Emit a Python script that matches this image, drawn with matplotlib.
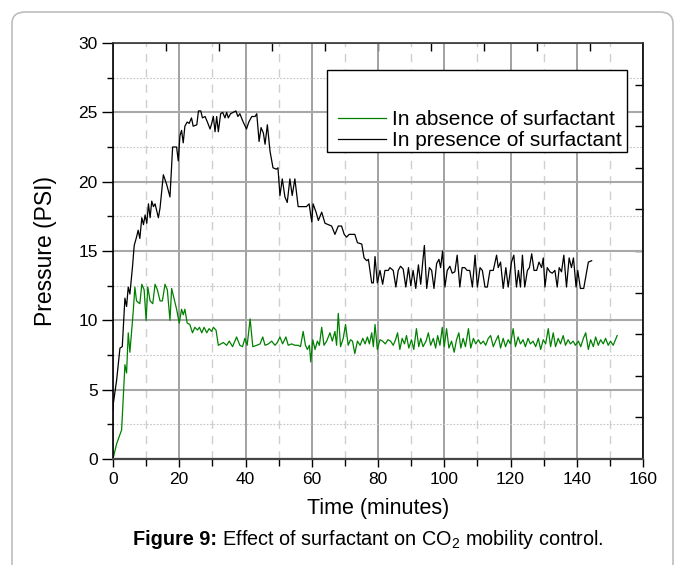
import matplotlib
matplotlib.use("Agg")
import matplotlib.pyplot as plt
from matplotlib.patches import FancyBboxPatch, Rectangle
import numpy as np

# ---------------- data ----------------
time_presence = [0.0, 0.1, 1.1, 2.1, 2.8, 3.6, 4.1, 4.6, 5.1, 5.9, 6.4, 7.1, 7.6, 8.1, 8.7, 9.2,
                 9.7, 10.2, 10.7, 11.2, 11.7, 12.2, 12.7, 13.7, 14.2, 15.2, 16.2, 17.2, 18.0,
                 19.2, 19.7, 20.2, 20.7, 21.2, 21.7, 22.4, 23.0, 23.7, 24.2, 25.3, 25.8, 26.5,
                 27.0, 27.8, 28.5, 29.3, 29.8, 30.3, 30.8, 31.3, 31.8, 32.5, 33.1, 33.8, 34.3,
                 34.8, 35.5, 36.3, 37.1, 37.7, 38.3, 39.3, 40.3, 41.0, 41.9, 42.9, 43.4, 44.1,
                 44.7, 45.4, 45.9, 46.6, 47.4, 48.3, 49.3, 49.8, 50.4, 51.1, 51.9, 52.6, 53.4,
                 54.1, 54.9, 55.9, 58.4, 59.2, 60.0, 60.4, 61.3, 62.0, 63.0, 64.0, 66.0, 67.0,
                 68.0, 69.0, 69.8, 70.5, 71.3, 73.0, 73.8, 75.1, 75.8, 76.6, 77.1, 78.1, 78.6,
                 79.1, 79.8, 80.6, 81.4, 82.1, 83.1, 83.6, 84.6, 85.4, 86.1, 86.8, 87.6, 88.4,
                 89.2, 89.9, 90.6, 91.4, 92.2, 92.9, 93.5, 94.0, 94.7, 95.5, 96.2, 96.9, 97.7,
                 98.4, 98.9, 99.5, 100.2, 100.9, 101.7, 102.4, 103.2, 103.9, 104.7, 105.4, 106.2,
                 106.9, 107.7, 108.5, 109.3, 110.0, 110.8, 111.5, 112.3, 113.0, 113.8, 114.8,
                 115.8, 116.3, 117.0, 117.8, 118.6, 119.3, 120.3, 121.0, 121.8, 122.4, 123.0,
                 123.6, 124.3, 125.1, 125.7, 126.4, 127.1, 127.9, 128.6, 129.4, 129.9, 130.4,
                 131.1, 131.9, 132.6, 133.4, 134.1, 134.7, 135.4, 136.1, 136.9, 137.7, 138.4,
                 139.0, 139.8, 140.3, 141.1, 142.1, 143.5, 144.5]
pressure_presence = [3.5, 4.0, 5.7, 8.0, 8.1, 11.6, 11.0, 12.4, 11.9, 13.9, 15.4, 16.0, 16.5, 15.9,
                     17.4, 16.9, 17.6, 17.0, 18.4, 17.4, 18.6, 18.2, 18.4, 17.4, 18.1, 20.5, 19.8,
                     18.9, 22.5, 22.5, 21.5, 23.3, 23.7, 22.8, 24.0, 24.3, 24.2, 24.6, 24.0, 24.1,
                     25.1, 25.1, 24.6, 24.7, 24.3, 23.8, 24.2, 24.7, 23.6, 24.7, 23.6, 24.9, 25.0,
                     24.6, 25.0, 24.6, 24.9, 25.0, 25.1, 24.7, 24.9, 24.3, 23.8, 24.3, 24.7, 24.7,
                     24.9, 22.9, 23.9, 23.5, 22.7, 24.1, 22.2, 21.0, 20.9, 21.0, 19.0, 20.2, 18.9,
                     18.5, 20.2, 19.0, 20.2, 18.2, 18.2, 18.4, 17.1, 18.4, 17.8, 17.2, 17.8, 17.0,
                     16.8, 16.2, 16.8, 16.8, 16.2, 16.0, 16.2, 16.2, 15.6, 15.5, 14.5, 14.3, 14.4,
                     12.7, 12.7, 14.6, 12.7, 13.6, 12.6, 13.6, 13.6, 13.8, 13.6, 12.4, 13.6, 13.9,
                     13.7, 12.4, 13.8, 12.5, 13.6, 12.3, 14.0, 12.6, 14.2, 15.4, 12.3, 13.8, 13.6,
                     12.3, 14.1, 14.4, 13.8, 15.0, 12.4, 13.6, 13.9, 13.4, 13.5, 14.7, 12.4, 13.8,
                     13.8, 13.6, 13.6, 12.4, 14.7, 12.4, 13.8, 13.6, 12.4, 12.4, 13.6, 13.6, 14.7,
                     13.8, 14.2, 12.3, 13.8, 12.4, 14.2, 14.7, 12.4, 13.6, 12.4, 14.7, 12.4, 13.6,
                     13.8, 14.8, 13.6, 13.6, 14.2, 13.8, 14.5, 12.4, 13.8, 13.5, 13.4, 13.6, 12.4,
                     13.8, 13.5, 14.7, 12.4, 14.5, 13.8, 14.5, 12.4, 13.6, 12.3, 12.3, 14.2, 14.3]

time_absence = [0.0, 1.1, 2.6, 3.6, 4.1, 4.6, 5.1, 6.1, 6.6, 7.1, 8.1, 8.7, 9.4, 10.0, 10.5, 11.2,
                12.0, 12.7, 13.4, 14.2, 14.9, 15.7, 16.4, 17.2, 17.7, 18.4, 19.2, 20.0, 20.7,
                21.2, 21.7, 22.4, 23.2, 24.0, 24.7, 25.5, 26.1, 26.8, 27.5, 28.3, 29.0, 29.8,
                30.3, 31.1, 31.8, 33.3, 34.3, 35.1, 36.1, 37.3, 38.3, 39.1, 39.8, 40.5, 41.4,
                42.2, 43.4, 44.4, 45.2, 45.9, 46.9, 47.9, 48.9, 49.6, 50.4, 51.2, 52.2, 52.9,
                53.9, 54.9, 55.9, 56.6, 57.4, 58.1, 58.7, 59.3, 59.7, 60.3, 61.0, 61.7, 62.3,
                63.0, 63.7, 64.5, 65.5, 66.2, 67.0, 67.5, 68.0, 68.7, 69.5, 70.2, 71.0, 71.7,
                72.3, 73.0, 73.8, 74.6, 75.4, 76.1, 76.8, 77.4, 78.1, 78.6, 79.1, 79.8, 80.6,
                81.4, 82.2, 83.0, 83.8, 84.6, 85.3, 85.9, 86.6, 87.3, 88.0, 88.6, 89.3, 90.1,
                90.8, 91.6, 92.3, 92.9, 93.6, 94.5, 95.2, 95.9, 96.7, 97.4, 98.0, 98.7, 99.4,
                100.0, 100.7, 101.4, 102.2, 103.0, 103.7, 104.4, 105.0, 105.7, 106.4, 107.3,
                108.0, 108.8, 109.5, 110.3, 111.0, 111.8, 112.5, 113.3, 114.0, 114.8, 115.5,
                116.3, 117.0, 117.8, 118.5, 119.3, 120.0, 120.8, 121.5, 122.3, 123.0, 123.8,
                124.5, 125.3, 126.0, 126.8, 127.6, 128.4, 129.1, 129.9, 130.6, 131.4, 132.1,
                132.9, 133.6, 134.4, 135.1, 135.9, 136.6, 137.4, 138.1, 138.9, 139.6, 140.5,
                141.2, 142.0, 142.7, 143.5, 144.2, 145.0, 145.7, 146.5, 147.2, 148.0, 148.7,
                149.5, 150.2, 151.0, 152.2]
pressure_absence = [0.0, 1.1, 2.1, 6.8, 6.2, 9.1, 7.7, 10.6, 12.4, 11.4, 11.2, 12.6, 12.2, 10.0,
                    12.4, 11.4, 11.2, 12.6, 12.2, 11.4, 11.4, 12.6, 12.2, 10.0, 12.3, 11.6, 10.8,
                    9.8, 10.8, 10.4, 10.8, 9.8, 9.7, 9.1, 9.5, 9.3, 9.5, 9.1, 9.5, 9.1, 9.4, 9.2,
                    9.5, 9.3, 8.2, 8.4, 8.2, 8.5, 8.1, 8.8, 8.2, 8.1, 8.7, 8.2, 10.1, 8.1, 8.2,
                    8.3, 8.8, 8.2, 8.3, 8.5, 8.2, 8.4, 8.8, 8.3, 8.8, 8.2, 8.3, 8.2, 8.2, 8.1,
                    9.2, 8.2, 7.9, 8.2, 7.0, 8.6, 7.9, 8.5, 8.2, 9.5, 8.2, 8.5, 9.1, 8.5, 9.2,
                    8.2, 10.5, 8.1, 8.7, 9.7, 8.2, 8.6, 8.5, 7.6, 8.5, 8.2, 8.7, 8.3, 8.8, 8.3,
                    9.1, 8.1, 9.7, 7.9, 8.6, 8.5, 8.3, 8.6, 8.5, 8.2, 8.6, 9.1, 7.9, 8.7, 8.3,
                    8.9, 8.0, 8.6, 7.9, 9.4, 8.1, 8.7, 8.1, 8.5, 9.1, 8.2, 8.7, 8.0, 8.9, 8.2,
                    9.5, 8.1, 9.4, 8.0, 8.5, 7.7, 8.6, 9.1, 8.0, 8.7, 8.1, 9.4, 8.0, 8.7, 8.3,
                    8.6, 8.3, 8.5, 8.2, 8.7, 8.9, 8.1, 8.5, 8.9, 8.0, 8.7, 8.1, 8.6, 8.3, 9.4,
                    8.1, 8.8, 8.3, 8.6, 8.1, 8.7, 8.3, 8.5, 8.1, 8.7, 7.9, 8.6, 8.3, 9.4, 8.1,
                    9.1, 8.1, 8.7, 8.3, 8.9, 8.2, 8.6, 8.3, 8.5, 8.2, 8.5, 8.1, 8.7, 9.1, 7.9,
                    8.6, 8.1, 8.8, 8.2, 8.6, 8.3, 8.7, 8.2, 8.5, 8.2, 8.9]

label_absence = "In absence of surfactant"
label_presence = "In presence of surfactant"
x_label = "Time (minutes)"
y_label = "Pressure (PSI)"
caption_bold = "Figure 9:"
caption_rest = " Effect of surfactant on CO$_2$ mobility control."
x_major = [0, 20, 40, 60, 80, 100, 120, 140, 160]
y_major = [0, 5, 10, 15, 20, 25, 30]

# ---------------- figure ----------------
W, H, DPI = 685, 565, 100
plt.rcParams['font.family'] = ['Liberation Sans', 'DejaVu Sans']
plt.rcParams['mathtext.fontset'] = 'custom'
plt.rcParams['mathtext.rm'] = 'Liberation Sans'
plt.rcParams['mathtext.bf'] = 'Liberation Sans:bold'

fig = plt.figure(figsize=(W / DPI, H / DPI), dpi=DPI)
fig.patch.set_facecolor('white')

# outer rounded frame
frame = FancyBboxPatch((12 / W, -0.05), (673 - 12) / W, (565 - 12) / H + 0.05,
                       boxstyle="round,pad=0,rounding_size=0.02",
                       transform=fig.transFigure, facecolor='none',
                       edgecolor='#bdbdbd', linewidth=1.2, clip_on=False)
fig.patches.append(frame)

L, R, T, B = 113, 643, 43, 459
ax = fig.add_axes([L / W, (H - B) / H, (R - L) / W, (B - T) / H])
ax.set_xlim(0, 160)
ax.set_ylim(0, 30)

# grid
ax.set_xticks(x_major)
ax.set_yticks(y_major)
ax.set_xticks(np.arange(10, 160, 20), minor=True)
ax.set_yticks(np.arange(2.5, 30, 5), minor=True)
ax.grid(which='major', axis='x', color='#9a9a9a', linewidth=1.3, linestyle='-')
ax.grid(which='major', axis='y', color='#a8a8a8', linewidth=1.5, linestyle='-')
ax.grid(which='minor', axis='x', color='#cfcfcf', linewidth=1.0, linestyle=(0, (6, 5)))
ax.grid(which='minor', axis='y', color='#c4c4c4', linewidth=0.8, linestyle=(0, (1.5, 1.5)))
ax.set_axisbelow(True)

ax.plot(time_absence, pressure_absence, color='#008000', linewidth=0.9, label=label_absence)
ax.plot(time_presence, pressure_presence, color='#000000', linewidth=0.9, label=label_presence)

# spines
for s in ['left', 'right']:
    ax.spines[s].set_color('black')
    ax.spines[s].set_linewidth(1.2)
ax.spines['top'].set_color('#333333')
ax.spines['top'].set_linewidth(1.2)
ax.spines['bottom'].set_color('#444444')
ax.spines['bottom'].set_linewidth(1.6)

ax.tick_params(axis='y', which='major', direction='out', length=8, width=1, labelsize=12.5, pad=3)
ax.tick_params(axis='y', which='minor', direction='out', length=4, width=1)
ax.tick_params(axis='x', which='major', direction='out', length=6, width=1, labelsize=12.5, pad=3)
ax.tick_params(axis='x', which='minor', direction='out', length=5, width=1)

# top & right inward ticks
top = ax.secondary_xaxis('top')
top.set_xticks(np.arange(16, 160, 16))
top.tick_params(direction='in', length=6, width=1, labeltop=False)
top.set_xticklabels([])
top.spines['top'].set_visible(False)
right = ax.secondary_yaxis('right')
right.set_yticks(np.arange(3, 30, 3))
right.tick_params(direction='in', length=6, width=1, labelright=False)
right.set_yticklabels([])
right.spines['right'].set_visible(False)

ax.set_xlabel(x_label, fontsize=15.5, labelpad=8)
ax.set_ylabel(y_label, fontsize=16.5, labelpad=15)

# legend box
bx0, by0, bx1, by1 = 327, 70, 627, 152
ax.add_patch(Rectangle(((bx0 - L) / (R - L), (B - by1) / (B - T)),
                       (bx1 - bx0) / (R - L), (by1 - by0) / (B - T),
                       transform=ax.transAxes, facecolor='white', edgecolor='black',
                       linewidth=1.0, zorder=5))
leg_fs = 15.0
fpx = leg_fs * DPI / 72.0
leg = ax.legend(loc='lower left',
                bbox_to_anchor=((338 - L) / (R - L), (B - 150) / (B - T)),
                frameon=False, prop={'family': ['Liberation Sans'], 'size': leg_fs},
                handlelength=48 / fpx, handletextpad=6 / fpx,
                labelspacing=0.1, borderpad=0, borderaxespad=0)
leg.set_zorder(6)

# caption: bold label followed by regular text, sharing one baseline
cap_fs = 14.3
cap_y = 1 - 545 / H
cap = fig.text(133 / W, cap_y, caption_bold, fontsize=cap_fs, fontweight='bold',
               ha='left', va='baseline')
fig.canvas.draw()
bb = cap.get_window_extent(renderer=fig.canvas.get_renderer())
fig.text(bb.x1 / (W), cap_y, caption_rest, fontsize=cap_fs, ha='left', va='baseline')

fig.savefig('out.png', dpi=DPI, facecolor='white')
